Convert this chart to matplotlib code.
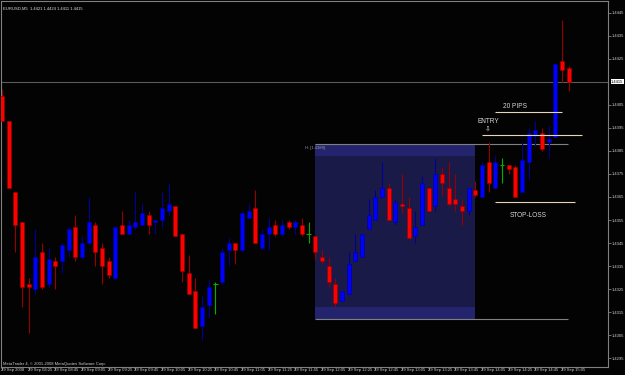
import matplotlib
matplotlib.use("Agg")
import matplotlib.pyplot as plt
from matplotlib.patches import Rectangle

# --- data ----------------------------------------------------------------
symbol_info = "EURUSD,M5  1.4421 1.4424 1.4411 1.4415"
copyright_text = "MetaTrader 4, \u00a9 2001-2008 MetaQuotes Software Corp."

opens = [1.4409, 1.4398, 1.4367, 1.4354, 1.4327, 1.4325, 1.4341, 1.4327, 1.4337, 1.4337,
         1.4342, 1.4352, 1.4339, 1.4345, 1.4353, 1.4343, 1.4337, 1.4330, 1.4353, 1.4349,
         1.4352, 1.4353, 1.4357, 1.4354, 1.4355, 1.4359, 1.4361, 1.4349, 1.4332, 1.4324,
         1.4309, 1.4318, 1.4327, 1.4328, 1.4342, 1.4345, 1.4342, 1.4356, 1.4360, 1.4343,
         1.4349, 1.4353, 1.4349, 1.4354, 1.4352, 1.4353, 1.4349, 1.4348, 1.4339, 1.4335,
         1.4327, 1.4320, 1.4323, 1.4337, 1.4339, 1.4351, 1.4355, 1.4365, 1.4369, 1.4354,
         1.4362, 1.4360, 1.4348, 1.4353, 1.4369, 1.4361, 1.4375, 1.4369, 1.4364, 1.4361,
         1.4359, 1.4368, 1.4365, 1.4380, 1.4369, 1.4379, 1.4379, 1.4378, 1.4367, 1.4380,
         1.4392, 1.4393, 1.4389, 1.4391, 1.4424, 1.4421]
highs = [1.4412, 1.4398, 1.4367, 1.4354, 1.4330, 1.4351, 1.4345, 1.4343, 1.4339, 1.4345,
         1.4352, 1.4357, 1.4348, 1.4365, 1.4354, 1.4345, 1.4339, 1.4352, 1.4359, 1.4355,
         1.4367, 1.4362, 1.4359, 1.4355, 1.4367, 1.4371, 1.4361, 1.4349, 1.4340, 1.4330,
         1.4322, 1.4329, 1.4328, 1.4343, 1.4347, 1.4345, 1.4359, 1.4362, 1.4368, 1.4351,
         1.4356, 1.4355, 1.4355, 1.4355, 1.4355, 1.4356, 1.4354, 1.4348, 1.4342, 1.4339,
         1.4330, 1.4324, 1.4341, 1.4349, 1.4349, 1.4364, 1.4368, 1.4380, 1.4371, 1.4364,
         1.4375, 1.4365, 1.4359, 1.4374, 1.4369, 1.4382, 1.4378, 1.4380, 1.4375, 1.4364,
         1.4369, 1.4372, 1.4380, 1.4389, 1.4383, 1.4382, 1.4379, 1.4379, 1.4389, 1.4395,
         1.4398, 1.4395, 1.4396, 1.4423, 1.4442, 1.4422]
lows = [1.4398, 1.4369, 1.4341, 1.4317, 1.4306, 1.4323, 1.4325, 1.4326, 1.4325, 1.4332,
        1.4339, 1.4337, 1.4338, 1.4344, 1.4335, 1.4327, 1.4330, 1.4329, 1.4349, 1.4349,
        1.4351, 1.4353, 1.4349, 1.4349, 1.4352, 1.4357, 1.4348, 1.4328, 1.4323, 1.4308,
        1.4303, 1.4313, 1.4314, 1.4327, 1.4335, 1.4336, 1.4341, 1.4356, 1.4345, 1.4342,
        1.4342, 1.4348, 1.4348, 1.4351, 1.4349, 1.4348, 1.4345, 1.4338, 1.4336, 1.4326,
        1.4317, 1.4320, 1.4323, 1.4337, 1.4339, 1.4351, 1.4355, 1.4365, 1.4355, 1.4353,
        1.4358, 1.4347, 1.4345, 1.4353, 1.4359, 1.4359, 1.4366, 1.4361, 1.4359, 1.4353,
        1.4357, 1.4365, 1.4365, 1.4367, 1.4369, 1.4371, 1.4375, 1.4365, 1.4367, 1.4373,
        1.4387, 1.4385, 1.4382, 1.4391, 1.4415, 1.4411]
closes = [1.4398, 1.4369, 1.4353, 1.4326, 1.4326, 1.4339, 1.4326, 1.4338, 1.4335, 1.4344,
          1.4351, 1.4339, 1.4345, 1.4354, 1.4341, 1.4335, 1.4331, 1.4352, 1.4349, 1.4353,
          1.4354, 1.4358, 1.4353, 1.4355, 1.4360, 1.4362, 1.4348, 1.4333, 1.4323, 1.4308,
          1.4317, 1.4326, 1.4327, 1.4341, 1.4345, 1.4342, 1.4358, 1.4359, 1.4345, 1.4349,
          1.4352, 1.4349, 1.4353, 1.4352, 1.4354, 1.4349, 1.4349, 1.4341, 1.4337, 1.4328,
          1.4319, 1.4324, 1.4336, 1.4341, 1.4349, 1.4357, 1.4365, 1.4369, 1.4355, 1.4363,
          1.4361, 1.4347, 1.4352, 1.4371, 1.4359, 1.4375, 1.4371, 1.4362, 1.4362, 1.4359,
          1.4369, 1.4366, 1.4379, 1.4371, 1.4380, 1.4379, 1.4377, 1.4365, 1.4381, 1.4393,
          1.4394, 1.4386, 1.4390, 1.4423, 1.4420, 1.4415]

time_labels = ["29 Sep 2008", "29 Sep 08:25", "29 Sep 08:45", "29 Sep 09:05", "29 Sep 09:25",
               "29 Sep 09:45", "29 Sep 10:05", "29 Sep 10:25", "29 Sep 10:45", "29 Sep 11:05",
               "29 Sep 11:25", "29 Sep 11:45", "29 Sep 12:05", "29 Sep 12:25", "29 Sep 12:45",
               "29 Sep 13:05", "29 Sep 13:25", "29 Sep 13:45", "29 Sep 14:05", "29 Sep 14:25",
               "29 Sep 14:45", "29 Sep 15:05"]
price_labels = ["1.4445", "1.4435", "1.4425", "1.4405", "1.4395", "1.4385", "1.4375",
                "1.4365", "1.4355", "1.4345", "1.4335", "1.4325", "1.4315", "1.4305", "1.4295"]
last_price = 1.4415

box_high = 1.4388
box_low = 1.4312
box_band = 0.0005
box_first_bar, box_last_bar = 47, 71

pips20_level = 1.4402
entry_level = 1.4392
stop_level = 1.4363

# --- style -------------------------------------------------------------------
BG = "#030303"
GREY = "#808080"
BEIGE = "#e6d5b8"
SMALL = ["Liberation Sans", "DejaVu Sans"]
ANNOT = ["Liberation Sans", "DejaVu Sans"]
FS = 3.0

fig = plt.figure(figsize=(6.25, 3.75), dpi=100, facecolor=BG)
ax = fig.add_axes([1 / 625, 8 / 375, 607 / 625, 366 / 375])
ax.set_facecolor(BG)

n = len(opens)
xs = list(range(n))

# session box
ax.add_patch(Rectangle((box_first_bar - 0.12, box_low), box_last_bar - box_first_bar, box_high - box_low,
                       facecolor="#1a1a48", edgecolor="none", zorder=1))
ax.add_patch(Rectangle((box_first_bar - 0.12, box_high - box_band), box_last_bar - box_first_bar, box_band,
                       facecolor="#24246e", edgecolor="none", zorder=1))
ax.add_patch(Rectangle((box_first_bar - 0.12, box_low), box_last_bar - box_first_bar, box_band,
                       facecolor="#24246e", edgecolor="none", zorder=1))
ax.hlines([box_high, box_low], box_first_bar - 0.12, n - 1.15, color=GREY, linewidth=0.8, zorder=2)
ax.text(box_first_bar - 0.12, box_high - 0.0001, "H: [%.4f]" % box_high, color="#9a9a9a",
        fontsize=FS, family=SMALL, ha="center", va="top", zorder=3)

# current price line
ax.axhline(last_price, color="#5a5a5a", linewidth=0.8, zorder=2)

# candles
for i in xs:
    o, h, l, c = opens[i], highs[i], lows[i], closes[i]
    if abs(c - o) < 1e-9:
        ax.vlines(i, l, h, color="#00b000", linewidth=0.8, zorder=3)
        ax.hlines(o, i - 0.35, i + 0.35, color="#00b000", linewidth=0.8, zorder=3)
        continue
    up = c > o
    body = "#0000ff" if up else "#ff0000"
    wick = "#000098" if up else "#980000"
    ax.vlines(i, l, h, color=wick, linewidth=0.8, zorder=3)
    ax.bar(i, abs(c - o), bottom=min(o, c), width=0.6, color=body, edgecolor=wick,
           linewidth=0.4, zorder=4)

# trade levels
ax.hlines(pips20_level, 74, 84, color=BEIGE, linewidth=0.8, zorder=5)
ax.hlines(entry_level, 72, 87, color=BEIGE, linewidth=0.8, zorder=5)
ax.hlines(stop_level, 74, 86, color=BEIGE, linewidth=0.8, zorder=5)
ax.text(77.0, pips20_level + 0.00022, "20 PIPS", color="#d8d8d8", fontsize=4.7, family=ANNOT,
        ha="center", va="center", zorder=6)
ax.text(73.0, entry_level + 0.0006, "ENTRY", color="#d8d8d8", fontsize=4.7, family=ANNOT,
        ha="center", va="center", zorder=6)
ax.text(72.8, entry_level + 0.00025, "\u21e9", color="#d8d8d8", fontsize=5, family=ANNOT,
        ha="center", va="center", zorder=6)
ax.text(78.9, stop_level - 0.0006, "STOP-LOSS", color="#d8d8d8", fontsize=4.7, family=ANNOT,
        ha="center", va="center", zorder=6)

# limits and frame
ax.set_xlim(-0.15, 90.9)
ax.set_ylim(1.42911, 1.44502)
for s in ax.spines.values():
    s.set_color(GREY)
    s.set_linewidth(0.8)

# price scale on the right
yvals = [float(t) for t in price_labels]
ax.yaxis.tick_right()
ax.set_yticks(yvals)
ax.set_yticklabels(price_labels, fontsize=FS, family=SMALL, color="#d0d0d0")
ax.tick_params(axis="y", length=2, width=0.6, color=GREY, pad=1)
ax.text(1.005, last_price, "%.4f" % last_price, transform=ax.get_yaxis_transform(),
        fontsize=FS, family=SMALL, color="black", ha="left", va="center",
        bbox=dict(boxstyle="square,pad=0.12", facecolor="white", edgecolor="none"))

# time scale at the bottom
ax.set_xticks([4 * k for k in range(len(time_labels))])
ax.set_xticklabels([])
ax.tick_params(axis="x", length=2, width=0.6, color=GREY)
for k, lab in enumerate(time_labels):
    ax.text(4 * k - 0.15, -0.004, lab, transform=ax.get_xaxis_transform(), fontsize=FS,
            family=SMALL, color="#d0d0d0", ha="left", va="top")

# header and footer text
ax.text(0.004, 0.985, symbol_info, transform=ax.transAxes, fontsize=FS, family=SMALL,
        color="#e0e0e0", ha="left", va="top")
ax.text(0.004, 0.004, copyright_text, transform=ax.transAxes, fontsize=FS, family=SMALL,
        color="#d0d0d0", ha="left", va="bottom")

fig.savefig("out.png", dpi=100, facecolor=BG)
